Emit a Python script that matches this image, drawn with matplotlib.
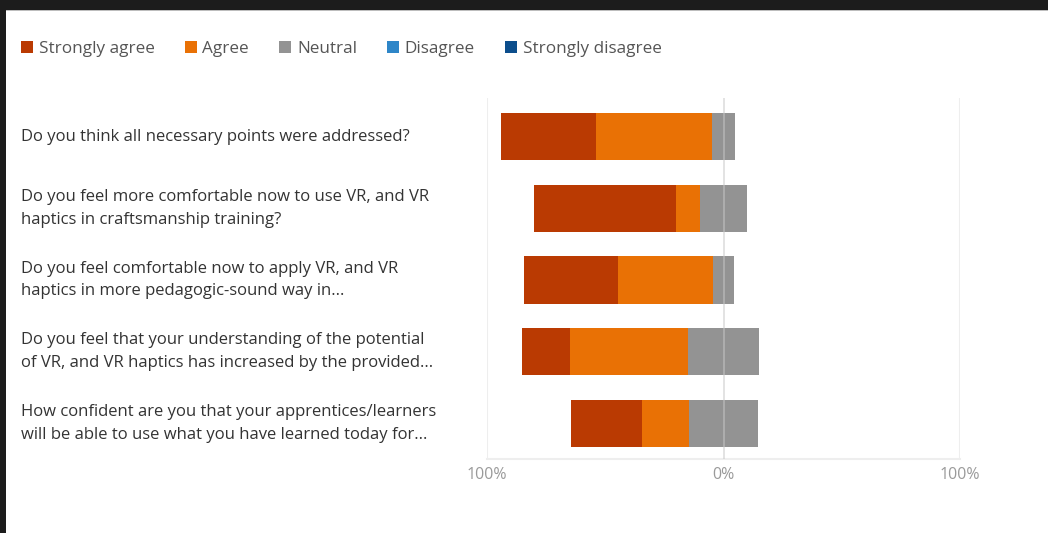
import matplotlib
matplotlib.use("Agg")
import matplotlib.pyplot as plt
import matplotlib.transforms as mtransforms
from matplotlib.patches import Patch, Rectangle
import numpy as np

plt.rcParams['font.family'] = ['Open Sans', 'DejaVu Sans']

questions = [
    "Do you think all necessary points were addressed?",
    "Do you feel more comfortable now to use VR, and VR\nhaptics in craftsmanship training?",
    "Do you feel comfortable now to apply VR, and VR\nhaptics in more pedagogic-sound way in...",
    "Do you feel that your understanding of the potential\nof VR, and VR haptics has increased by the provided...",
    "How confident are you that your apprentices/learners\nwill be able to use what you have learned today for...",
]
strongly_agree = [40, 60, 40, 20, 30]
agree = [49, 10, 40, 50, 20]
neutral = [10, 20, 9, 30, 29]
disagree = [0, 0, 0, 0, 0]
strongly_disagree = [0, 0, 0, 0, 0]
legend_labels = ["Strongly agree", "Agree", "Neutral", "Disagree", "Strongly disagree"]
tick_labels = ["100%", "0%", "100%"]

colors = ["#BA3A02", "#E97105", "#939393", "#2E86C8", "#0C4E8C"]

W, H = 1048, 533
fig = plt.figure(figsize=(W / 100, H / 100), dpi=100)
fig.patch.set_facecolor("white")

# screenshot dark border
fig.patches.append(Rectangle((0, 1 - 10 / H), 1, 10 / H, transform=fig.transFigure,
                             facecolor="#1c1c1c", edgecolor="none", zorder=10))
fig.patches.append(Rectangle((0, 0), 6 / W, 1, transform=fig.transFigure,
                             facecolor="#1c1c1c", edgecolor="none", zorder=10))
fig.patches.append(Rectangle((6 / W, 1 - 11 / H), 1, 1 / H, transform=fig.transFigure,
                             facecolor="#bdbdbd", edgecolor="none", zorder=10))

ax = fig.add_axes([487 / W, (H - 459) / H, (960 - 487) / W, (459 - 98) / H])

sa = np.array(strongly_agree, float)
ag = np.array(agree, float)
ne = np.array(neutral, float)
di = np.array(disagree, float)
sd = np.array(strongly_disagree, float)
y = np.arange(len(questions))
h = 0.66

ax.barh(y, sa, left=-(ne / 2 + ag + sa), height=h, color=colors[0], zorder=2)
ax.barh(y, ag, left=-(ne / 2 + ag), height=h, color=colors[1], zorder=2)
ax.barh(y, ne, left=-ne / 2, height=h, color=colors[2], zorder=2)
ax.barh(y, di, left=ne / 2, height=h, color=colors[3], zorder=2)
ax.barh(y, sd, left=ne / 2 + di, height=h, color=colors[4], zorder=2)

ax.set_xlim(-100, 100)
ax.set_ylim(4.495, -0.537)
for xv in (-100, 100):
    ax.axvline(xv, color="#eeeeee", lw=1.5, zorder=1)
ax.axvline(0, color="#c8c8c8", lw=1.2, alpha=0.6, zorder=3)
for s in ["top", "left", "right"]:
    ax.spines[s].set_visible(False)
ax.spines["bottom"].set_color("#eeeeee")
ax.spines["bottom"].set_linewidth(1.5)
ax.set_xticks([-100, 0, 100])
ax.set_xticklabels(tick_labels, color="#9a9a9a", fontsize=11.5)
ax.tick_params(axis="x", length=0, pad=6)
ax.set_yticks([])

trans = mtransforms.blended_transform_factory(fig.transFigure, ax.transData)
for yi, q in zip(y, questions):
    ax.text(21 / W, yi, q, transform=trans, ha="left", va="center",
            fontsize=12, color="#333333", linespacing=1.55, clip_on=False)

handles = [Patch(facecolor=c, edgecolor="none") for c in colors]
fig.legend(handles, legend_labels, loc="center left", bbox_to_anchor=(14 / W, 1 - 49 / H),
           ncol=5, frameon=False, handlelength=0.7, handleheight=0.7,
           handletextpad=0.35, columnspacing=1.75, fontsize=12.3,
           labelcolor="#555555", borderaxespad=0)

fig.savefig("out.png", dpi=100)
